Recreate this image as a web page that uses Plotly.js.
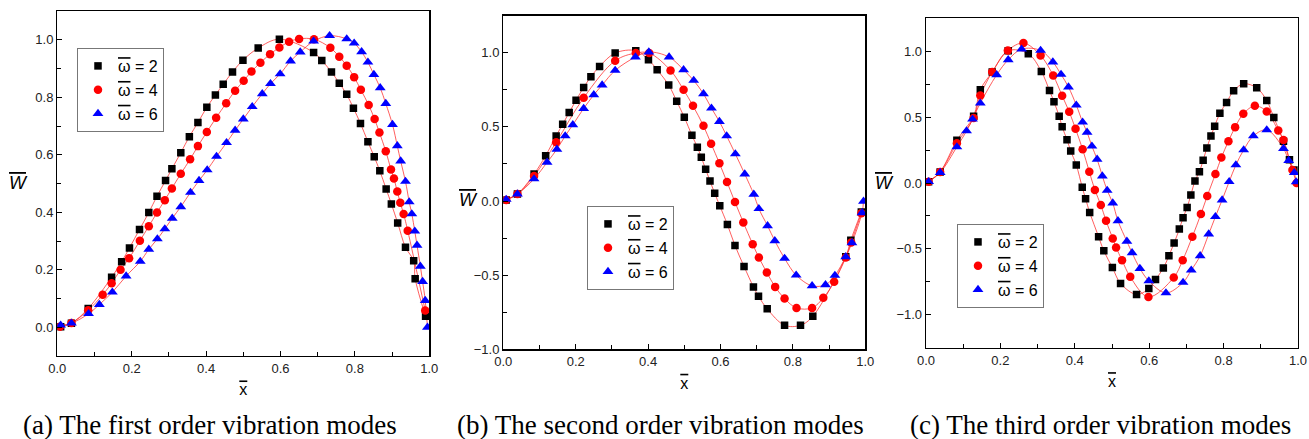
<!DOCTYPE html>
<html>
<head>
<meta charset="utf-8">
<script src="https://cdn.plot.ly/plotly-3.0.1.min.js"></script>
<style>html,body{margin:0;padding:0;background:#fff;}#chart{width:1309px;height:439px;}</style>
</head>
<body>
<div id="chart"></div>
<script>
// ---------- data: panel (a) first order ----------
const aX2 = [0.009,0.038,0.083,0.146,0.173,0.194,0.221,0.246,0.268,0.291,0.308,0.332,0.355,0.378,0.402,0.425,0.446,0.471,0.499,0.540,0.597,0.689,0.711,0.737,0.758,0.778,0.796,0.815,0.835,0.852,0.867,0.884,0.898,0.915,0.936,0.958,0.962,0.990];
const aY2 = [0.002,0.014,0.065,0.174,0.228,0.276,0.340,0.399,0.456,0.510,0.551,0.607,0.663,0.712,0.765,0.808,0.845,0.888,0.929,0.971,1.002,0.956,0.928,0.888,0.849,0.810,0.762,0.709,0.645,0.593,0.544,0.481,0.429,0.363,0.278,0.231,0.169,0.038];
const aX4 = [0.007,0.038,0.083,0.122,0.146,0.170,0.193,0.222,0.246,0.268,0.289,0.308,0.332,0.357,0.378,0.402,0.427,0.454,0.478,0.501,0.522,0.546,0.572,0.597,0.623,0.650,0.690,0.734,0.758,0.778,0.798,0.816,0.837,0.853,0.866,0.883,0.897,0.905,0.914,0.922,0.931,0.942,0.989];
const aY4 = [0.002,0.015,0.059,0.113,0.153,0.200,0.240,0.301,0.351,0.399,0.442,0.483,0.534,0.584,0.630,0.679,0.729,0.779,0.823,0.857,0.890,0.920,0.950,0.973,0.993,1.003,1.002,0.972,0.941,0.910,0.870,0.826,0.773,0.724,0.677,0.612,0.549,0.517,0.472,0.433,0.394,0.336,0.058];
const aX6 = [0.009,0.038,0.084,0.113,0.148,0.185,0.223,0.246,0.269,0.289,0.309,0.332,0.358,0.381,0.403,0.428,0.455,0.478,0.500,0.524,0.551,0.573,0.599,0.627,0.653,0.689,0.732,0.778,0.798,0.818,0.835,0.851,0.868,0.883,0.901,0.914,0.923,0.936,0.946,0.953,0.961,0.967,0.976,0.982,0.989,0.995];
const aY6 = [0.007,0.014,0.047,0.079,0.122,0.178,0.229,0.271,0.307,0.342,0.379,0.419,0.469,0.510,0.547,0.594,0.642,0.685,0.724,0.767,0.812,0.847,0.881,0.926,0.957,0.995,1.014,1.003,0.988,0.958,0.922,0.879,0.833,0.778,0.705,0.631,0.578,0.507,0.436,0.394,0.334,0.285,0.212,0.159,0.093,0.000];

// ---------- data: panel (b) second order ----------
const bX2 = [0.008,0.039,0.085,0.117,0.146,0.164,0.182,0.201,0.222,0.242,0.266,0.309,0.366,0.401,0.425,0.457,0.479,0.500,0.521,0.536,0.547,0.559,0.571,0.584,0.598,0.619,0.640,0.665,0.691,0.705,0.729,0.777,0.821,0.855,0.946,0.960,0.989];
const bY2 = [0.007,0.047,0.182,0.306,0.439,0.518,0.597,0.680,0.766,0.838,0.908,0.998,1.014,0.953,0.885,0.782,0.673,0.565,0.444,0.363,0.295,0.214,0.135,0.052,-0.032,-0.158,-0.300,-0.441,-0.579,-0.642,-0.727,-0.838,-0.838,-0.777,-0.376,-0.264,-0.074];
const bX4 = [0.008,0.039,0.085,0.146,0.222,0.309,0.366,0.403,0.462,0.498,0.524,0.553,0.574,0.597,0.618,0.640,0.663,0.689,0.706,0.728,0.751,0.777,0.810,0.853,0.884,0.914,0.946,0.961,0.989];
const bY4 = [0.007,0.047,0.169,0.396,0.696,0.946,0.998,0.998,0.881,0.750,0.642,0.507,0.387,0.255,0.128,-0.007,-0.144,-0.291,-0.381,-0.482,-0.579,-0.658,-0.721,-0.721,-0.653,-0.545,-0.381,-0.279,-0.083];
const bX6 = [0.008,0.039,0.085,0.121,0.148,0.171,0.192,0.222,0.250,0.273,0.309,0.365,0.402,0.458,0.498,0.526,0.553,0.575,0.597,0.617,0.641,0.667,0.692,0.706,0.730,0.750,0.777,0.809,0.853,0.890,0.916,0.946,0.963,0.991,0.995];
const bY6 = [0.011,0.047,0.149,0.261,0.349,0.439,0.514,0.624,0.716,0.782,0.881,0.971,1.005,0.971,0.885,0.813,0.723,0.626,0.536,0.439,0.318,0.182,0.045,-0.052,-0.167,-0.268,-0.387,-0.500,-0.572,-0.565,-0.502,-0.376,-0.282,-0.079,-0.002];

// ---------- data: panel (c) third order ----------
const cX2 = [0.007,0.038,0.083,0.128,0.146,0.178,0.221,0.275,0.310,0.332,0.344,0.358,0.366,0.379,0.389,0.404,0.420,0.429,0.440,0.464,0.478,0.501,0.523,0.566,0.599,0.617,0.638,0.653,0.667,0.681,0.691,0.702,0.712,0.723,0.735,0.745,0.755,0.766,0.776,0.790,0.808,0.827,0.854,0.889,0.916,0.935,0.961,0.977,0.989];
const cY2 = [0.010,0.084,0.324,0.507,0.707,0.842,1.004,0.981,0.847,0.702,0.616,0.507,0.426,0.329,0.243,0.137,-0.033,-0.119,-0.223,-0.408,-0.515,-0.641,-0.762,-0.846,-0.801,-0.733,-0.646,-0.553,-0.456,-0.350,-0.264,-0.185,-0.091,0.015,0.086,0.172,0.266,0.357,0.431,0.530,0.611,0.700,0.753,0.722,0.626,0.497,0.317,0.177,0.099];
const cX4 = [0.007,0.038,0.083,0.128,0.146,0.178,0.220,0.262,0.308,0.342,0.366,0.385,0.402,0.421,0.439,0.454,0.470,0.484,0.502,0.511,0.527,0.549,0.598,0.666,0.690,0.716,0.739,0.756,0.778,0.794,0.813,0.831,0.853,0.884,0.916,0.947,0.961,0.985,0.996];
const cY4 = [0.010,0.084,0.302,0.494,0.664,0.842,1.006,1.062,0.968,0.816,0.662,0.540,0.411,0.256,0.086,-0.053,-0.167,-0.287,-0.421,-0.489,-0.586,-0.712,-0.865,-0.717,-0.586,-0.408,-0.236,-0.099,0.068,0.193,0.317,0.424,0.525,0.586,0.542,0.398,0.327,0.099,0.000];
const cX6 = [0.007,0.038,0.083,0.109,0.125,0.146,0.190,0.221,0.257,0.308,0.341,0.363,0.383,0.404,0.421,0.433,0.446,0.460,0.474,0.487,0.502,0.516,0.540,0.554,0.575,0.599,0.645,0.691,0.713,0.737,0.760,0.778,0.796,0.815,0.833,0.854,0.880,0.916,0.961,0.975,0.990,0.995];
const cY6 = [0.010,0.079,0.274,0.395,0.484,0.606,0.821,0.935,1.016,1.006,0.918,0.824,0.728,0.591,0.462,0.385,0.279,0.180,0.053,-0.056,-0.152,-0.287,-0.443,-0.530,-0.649,-0.743,-0.834,-0.755,-0.662,-0.553,-0.388,-0.256,-0.129,0.010,0.137,0.251,0.357,0.403,0.261,0.170,0.078,0.008];

// ---------- labels ----------
const seriesNames = ['<span style="text-decoration:overline">\u03C9</span> = 2', '<span style="text-decoration:overline">\u03C9</span> = 4', '<span style="text-decoration:overline">\u03C9</span> = 6'];
const captions = ['(a) The first order vibration modes', '(b) The second order vibration modes', '(c) The third order vibration modes'];
const xTitle = '<span style="text-decoration:overline">x</span>';
const yTitle = '<i><span style="text-decoration:overline">W</span></i>';

const panels = [
  {xs:[aX2,aX4,aX6], ys:[aY2,aY4,aY6]},
  {xs:[bX2,bX4,bX6], ys:[bY2,bY4,bY6]},
  {xs:[cX2,cX4,cX6], ys:[cY2,cY4,cY6]}
];
const markerStyles = [
  {symbol:'square', color:'#000000', size:7.5},
  {symbol:'circle', color:'#ff0000', size:8.5},
  {symbol:'triangle-up', color:'#0000ff', size:9.5}
];

const traces = [];
panels.forEach((p, i) => {
  const xa = i === 0 ? 'x' : 'x' + (i + 1);
  const ya = i === 0 ? 'y' : 'y' + (i + 1);
  const lg = i === 0 ? 'legend' : 'legend' + (i + 1);
  for (let s = 0; s < 3; s++) {
    traces.push({x:p.xs[s], y:p.ys[s], xaxis:xa, yaxis:ya, mode:'lines',
      line:{color:'rgba(255,40,40,0.75)', width:1, shape:'spline', smoothing:1},
      showlegend:false, hoverinfo:'skip'});
  }
  for (let s = 0; s < 3; s++) {
    traces.push({x:p.xs[s], y:p.ys[s], xaxis:xa, yaxis:ya, mode:'markers', name:seriesNames[s],
      legend:lg, marker:{symbol:markerStyles[s].symbol, color:markerStyles[s].color, size:markerStyles[s].size}});
  }
});

const W = 1309, H = 439;
function dx(a, b) { return [a / W, b / W]; }
function dy(top, bottom) { return [1 - bottom / H, 1 - top / H]; }

const SANS = 'Liberation Sans, Arial, sans-serif';
const SERIF = 'Liberation Serif, Times New Roman, serif';
const tickFont = {family:SANS, size:13, color:'#222'};
function xAxis(domain, anchor) {
  return {domain:domain, anchor:anchor, range:[0,1], dtick:0.2, tick0:0, tickformat:'.1f',
    showline:true, linecolor:'#000', linewidth:1.3, mirror:true, ticks:'inside', ticklen:5, tickcolor:'#000',
    minor:{ticks:'inside', ticklen:4, dtick:0.1, tickcolor:'#000'},
    showgrid:false, zeroline:false, tickfont:tickFont,
    title:{text:xTitle, font:{family:SANS, size:16, color:'#000'}, standoff:9}};
}
function yAxis(domain, anchor, range, dtick) {
  return {domain:domain, anchor:anchor, range:range, dtick:dtick, tick0:0, tickformat:'.1f',
    showline:true, linecolor:'#000', linewidth:1.3, mirror:true, ticks:'inside', ticklen:5, tickcolor:'#000',
    minor:{ticks:'inside', ticklen:4, dtick:dtick/2, tickcolor:'#000'},
    showgrid:false, zeroline:false, tickfont:tickFont};
}
const legendFont = {family:SANS, size:16, color:'#000'};
function legendAt(x, y) {
  return {x:x / W, y:1 - y / H, xanchor:'left', yanchor:'top', bgcolor:'#fff', bordercolor:'#777', borderwidth:1,
    font:legendFont, itemsizing:'trace'};
}

const yTitleFont = {family:SANS, size:18, color:'#000'};
const captionFont = {family:SERIF, size:27, color:'#000'};
const annotations = [
  {text:yTitle, xref:'paper', yref:'paper', x:18 / W, y:1 - 183 / H, xanchor:'center', yanchor:'middle', showarrow:false, font:yTitleFont},
  {text:yTitle, xref:'paper', yref:'paper', x:468 / W, y:1 - 200 / H, xanchor:'center', yanchor:'middle', showarrow:false, font:yTitleFont},
  {text:yTitle, xref:'paper', yref:'paper', x:884 / W, y:1 - 183 / H, xanchor:'center', yanchor:'middle', showarrow:false, font:yTitleFont},
  {text:captions[0], xref:'paper', yref:'paper', x:210 / W, y:1 - 425 / H, xanchor:'center', yanchor:'middle', showarrow:false, font:captionFont},
  {text:captions[1], xref:'paper', yref:'paper', x:660 / W, y:1 - 425 / H, xanchor:'center', yanchor:'middle', showarrow:false, font:captionFont},
  {text:captions[2], xref:'paper', yref:'paper', x:1100 / W, y:1 - 425 / H, xanchor:'center', yanchor:'middle', showarrow:false, font:captionFont}
];

const layout = {
  width:W, height:H, autosize:false, margin:{l:0, r:0, t:0, b:0},
  paper_bgcolor:'#fff', plot_bgcolor:'#fff', showlegend:true,
  xaxis:xAxis(dx(57.3, 429.3), 'y'),
  yaxis:yAxis(dy(11, 356), 'x', [-0.1, 1.1], 0.2),
  xaxis2:xAxis(dx(503.3, 865.3), 'y2'),
  yaxis2:yAxis(dy(15.7, 349.3), 'x2', [-1, 1.25], 0.5),
  xaxis3:xAxis(dx(926, 1298), 'y3'),
  yaxis3:yAxis(dy(18.3, 347.7), 'x3', [-1.25, 1.25], 0.5),
  legend:legendAt(77, 48),
  legend2:legendAt(587, 206),
  legend3:legendAt(957, 224),
  annotations:annotations
};

Plotly.newPlot('chart', traces, layout, {displayModeBar:false, staticPlot:true});
</script>
</body>
</html>
